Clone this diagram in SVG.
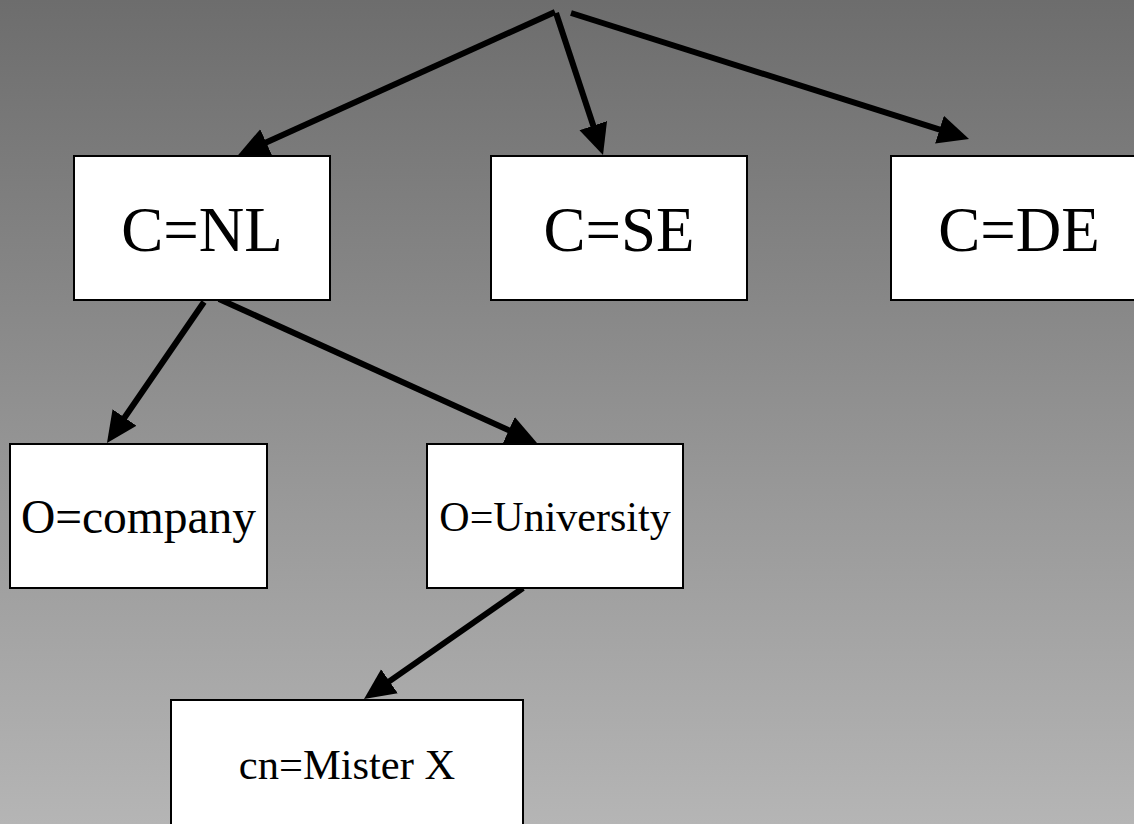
<svg xmlns="http://www.w3.org/2000/svg" width="1134" height="824" viewBox="0 0 1134 824">
<defs>
<linearGradient id="bg" x1="0" y1="0" x2="0" y2="1">
<stop offset="0" stop-color="#6d6d6d"/>
<stop offset="1" stop-color="#b5b5b5"/>
</linearGradient>
<marker id="ah" markerUnits="userSpaceOnUse" markerWidth="31" markerHeight="30" viewBox="0 0 31 30" refX="2" refY="15" orient="auto">
<path d="M0,0.5 L31,15 L0,29.5 z" fill="#000"/>
</marker>
<style>
.box{fill:#fff;stroke:#000;stroke-width:2}
.t{fill:#000;text-anchor:middle}
.edge{stroke:#000;stroke-width:6;fill:none;marker-end:url(#ah)}
</style>
</defs>
<rect x="0" y="0" width="1134" height="824" fill="url(#bg)"/>
<g id="connectors">
<line class="edge" x1="555" y1="12" x2="264.4" y2="143.2"/>
<line class="edge" x1="556" y1="13" x2="593.9" y2="127.5"/>
<line class="edge" x1="571" y1="13" x2="941.4" y2="130.2"/>
<line class="edge" x1="204" y1="302" x2="123.4" y2="419.2"/>
<line class="edge" x1="219" y1="299" x2="510.6" y2="431.1"/>
<line class="edge" x1="523" y1="588" x2="387.8" y2="682.4"/>
</g>
<g id="node-nl">
<rect class="box" x="74" y="156" width="256" height="144"/>
<text class="t" font-family="Liberation Serif, Times New Roman, DejaVu Serif, serif" x="202" y="251" font-size="63">C=NL</text>
</g>
<g id="node-se">
<rect class="box" x="491" y="156" width="256" height="144"/>
<text class="t" font-family="Liberation Serif, Times New Roman, DejaVu Serif, serif" x="619" y="251" font-size="63">C=SE</text>
</g>
<g id="node-de">
<rect class="box" x="891" y="156" width="256" height="144"/>
<text class="t" font-family="Liberation Serif, Times New Roman, DejaVu Serif, serif" x="1019" y="251" font-size="63">C=DE</text>
</g>
<g id="node-company">
<rect class="box" x="10" y="444" width="257" height="144"/>
<text class="t" font-family="Liberation Serif, Times New Roman, DejaVu Serif, serif" x="138.5" y="533" font-size="47.5">O=company</text>
</g>
<g id="node-university">
<rect class="box" x="427" y="444" width="256" height="144"/>
<text class="t" font-family="Liberation Serif, Times New Roman, DejaVu Serif, serif" x="555" y="531" font-size="42">O=University</text>
</g>
<g id="node-misterx">
<rect class="box" x="171" y="700" width="352" height="160"/>
<text class="t" font-family="Liberation Serif, Times New Roman, DejaVu Serif, serif" x="347" y="779" font-size="42.5">cn=Mister X</text>
</g>
</svg>
